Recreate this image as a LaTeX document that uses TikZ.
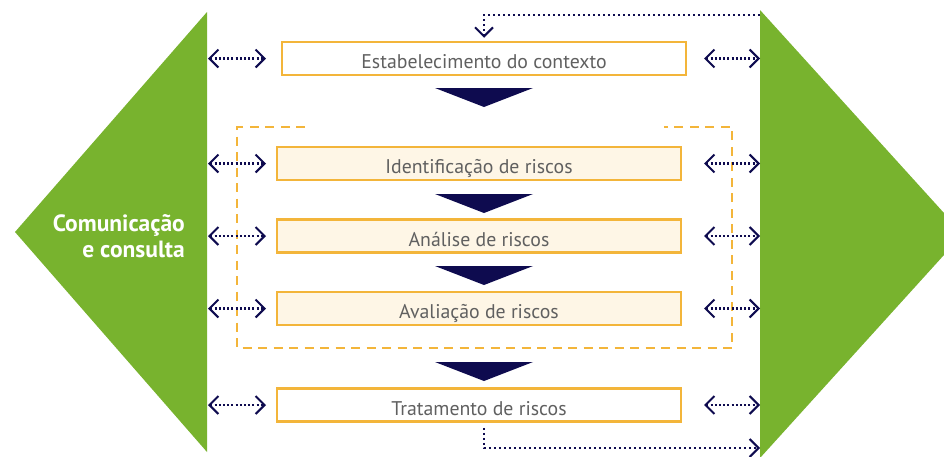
\documentclass[tikz,border=0pt]{standalone}
\usepackage{fontspec}
\setmainfont{PT Sans}
\usetikzlibrary{arrows.meta}
\definecolor{grn}{HTML}{78B32E}
\definecolor{nvy}{HTML}{0E0B4F}
\definecolor{org}{HTML}{F3B53A}
\definecolor{crm}{HTML}{FEF6E6}
\definecolor{txtgray}{HTML}{606060}
\tikzset{chev/.tip={Straight Barb[length=9pt,width=18pt,line width=2pt]}}
\begin{document}
\begin{tikzpicture}[x=1pt,y=-1pt,
  stagebox/.style={draw=org, line width=2.5pt, minimum width=404pt, minimum height=33pt,
    inner sep=0pt, text=txtgray, font=\fontsize{19.8}{22}\selectfont,
    text height=21pt, text depth=1pt},
  innerbox/.style={stagebox, fill=crm},
  dblarrow/.style={draw=nvy, line width=2.3pt, dash pattern=on 2pt off 2.2pt, chev-chev},
  fbarrow/.style={draw=nvy, line width=2.3pt, dash pattern=on 2pt off 3pt, -chev},
  downtri/.pic={\fill[nvy] (-49,0) -- (49,0) -- (0,19) -- cycle;},
  dashframe/.style={draw=org, line width=2.7pt, dash pattern=on 9pt off 6.5pt}
]
\useasboundingbox (0,0) rectangle (944,456);
\clip (0,0) rectangle (944,456);

% green side arrows
\fill[grn] (207,12) -- (207,452) -- (15,232) -- cycle;
\fill[grn] (760,10) -- (963,234) -- (760,458) -- cycle;
\node[anchor=east, align=right, text=white, inner sep=0pt,
  font=\fontsize{23.5}{26}\selectfont\bfseries] (cc) at (185,236) {Comunicação\\e consulta};

% dashed frame (open at top middle)
\draw[dashframe] (305,127) -- (237,127) -- (237,348) -- (732,348) -- (732,127) -- (664,127);

% stage boxes
\node[stagebox, fill=white] (est) at (484,58.5) {Estabelecimento do contexto};
\node[innerbox] (ide) at (479,163.5) {Identificação de riscos};
\node[innerbox] (ana) at (479,236) {Análise de riscos};
\node[innerbox] (ava) at (479,308.5) {Avaliação de riscos};
\node[stagebox, fill=white] (tra) at (479,405) {Tratamento de riscos};

% flow triangles
\pic at (484,88) {downtri};
\pic at (484,194) {downtri};
\pic at (484,266) {downtri};
\pic at (484,362) {downtri};

% side double arrows
\foreach \n/\y in {e/58.5, i/163.5, a/236, v/308.5, t/405} {
  \coordinate (L\n1) at (208,\y);
  \coordinate (L\n2) at (266,\y);
  \coordinate (R\n1) at (704,\y);
  \coordinate (R\n2) at (760,\y);
  \draw[dblarrow] (L\n1) -- (L\n2);
  \draw[dblarrow] (R\n1) -- (R\n2);
}

% feedback loops
\coordinate (gtop) at (760,15);
\draw[fbarrow, shorten >=3pt] (gtop) -| (est.north);
\coordinate (gbot) at (760,448);
\draw[fbarrow, shorten <=5pt] ([xshift=5pt]tra.south) |- (gbot);
\end{tikzpicture}
\end{document}
